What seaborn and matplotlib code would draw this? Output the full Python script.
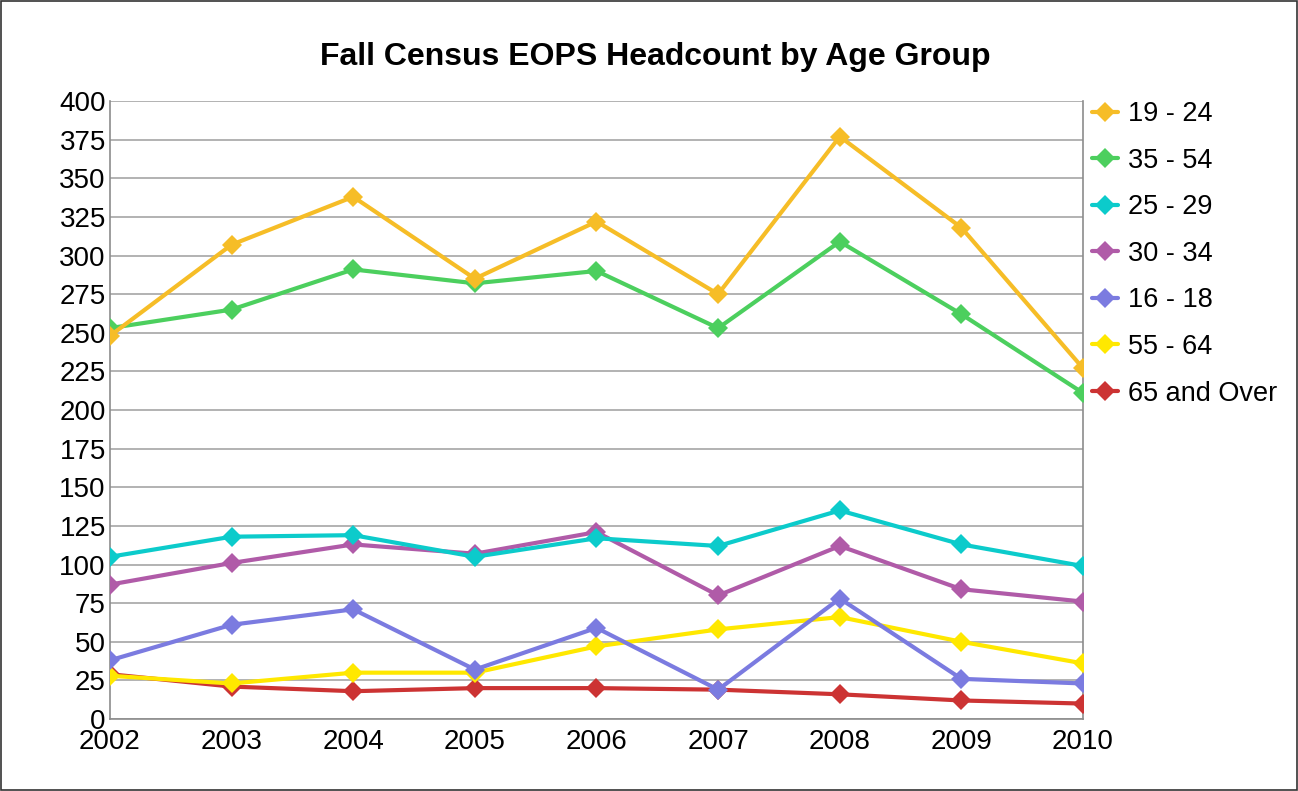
import matplotlib
matplotlib.use('Agg')
import matplotlib.pyplot as plt
import seaborn as sns
import pandas as pd
from matplotlib.patches import Rectangle

years = [2002, 2003, 2004, 2005, 2006, 2007, 2008, 2009, 2010]

groups = ['19 - 24', '35 - 54', '25 - 29', '30 - 34', '16 - 18', '55 - 64', '65 and Over']

age_19_24 = [248, 307, 338, 285, 322, 275, 377, 318, 227]
age_35_54 = [253, 265, 291, 282, 290, 253, 309, 262, 211]
age_25_29 = [105, 118, 119, 105, 117, 112, 135, 113, 99]
age_30_34 = [87, 101, 113, 107, 121, 80, 112, 84, 76]
age_16_18 = [38, 61, 71, 32, 59, 19, 78, 26, 23]
age_55_64 = [28, 23, 30, 30, 47, 58, 66, 50, 36]
age_65_up = [29, 21, 18, 20, 20, 19, 16, 12, 10]

colors = ['#F6BD27', '#4CCF5E', '#0CCBCB', '#B05BA8', '#7B7BE0', '#FFE800', '#CC3333']

series = [age_19_24, age_35_54, age_25_29, age_30_34, age_16_18, age_55_64, age_65_up]

rows = []
for g, vals in zip(groups, series):
    for y, v in zip(years, vals):
        rows.append({'Year': y, 'Headcount': v, 'Group': g})
df = pd.DataFrame(rows)

sns.set_style('white')
plt.rcParams['font.family'] = ['Liberation Sans', 'DejaVu Sans']
plt.rcParams['text.color'] = 'black'

fig = plt.figure(figsize=(12.98, 7.91), dpi=100)
ax = fig.add_axes([0.0847, 0.091, 0.7497, 0.7813])

# first series drawn on top
n = len(groups)
for i, g in enumerate(groups):
    sns.lineplot(
        data=df[df['Group'] == g],
        x='Year',
        y='Headcount',
        color=colors[i],
        marker='D',
        markersize=14,
        markeredgewidth=0,
        linewidth=5,
        label=g,
        zorder=10 + n - i,
        ax=ax
    )

ax.set_xlim(2002, 2010)
ax.set_ylim(0, 400)
ax.set_yticks(range(0, 401, 25))
ax.set_xticks(years)
ax.set_xlabel('')
ax.set_ylabel('')

ax.yaxis.grid(True, color='#a6a6a6', linewidth=1.2)
ax.set_axisbelow(True)
for s in ['left', 'bottom', 'right']:
    ax.spines[s].set_visible(True)
    ax.spines[s].set_color('#8c8c8c')
    ax.spines[s].set_linewidth(1.2)
ax.spines['top'].set_visible(False)

ax.tick_params(axis='both', labelsize=20, length=0, colors='black')
ax.tick_params(axis='y', pad=3)
ax.tick_params(axis='x', pad=7)

fig.text(0.505, 0.928, 'Fall Census EOPS Headcount by Age Group', fontsize=23,
         fontweight='bold', ha='center', va='center', color='black')

handles, labels = ax.get_legend_handles_labels()
for h in handles:
    h.set_linewidth(3)
    h.set_markersize(10)
ax.legend(handles, labels, loc='upper left', bbox_to_anchor=(1.009, 1.0),
          frameon=False, fontsize=19.5, handlelength=0.95, handletextpad=0.4,
          labelspacing=0.76, borderaxespad=0, borderpad=0)

fig.patches.append(Rectangle((0.0005, 0.001), 0.999, 0.998, transform=fig.transFigure,
                             fill=False, edgecolor='#333333', linewidth=1.2))

fig.savefig('out.png', dpi=100)
